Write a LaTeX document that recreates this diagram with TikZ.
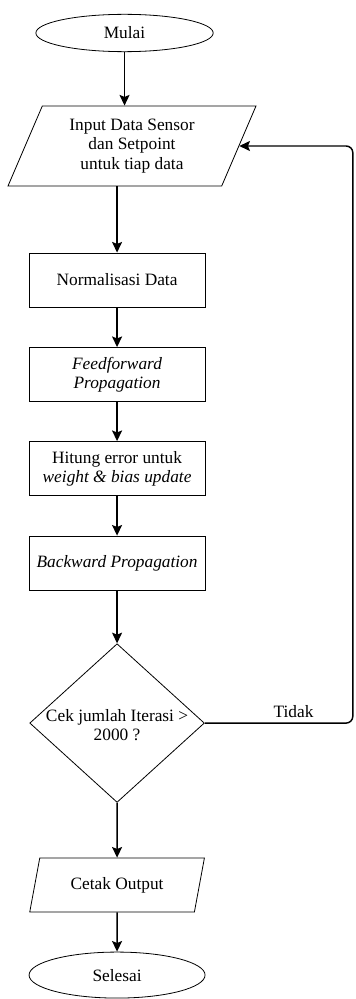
\documentclass[tikz,border=0pt]{standalone}
\usepackage{fontspec}
\setmainfont{Liberation Serif}
\usetikzlibrary{arrows.meta, shapes.geometric}

\begin{document}
\begin{tikzpicture}[
                > = {Stealth[length=8pt, width=7.5pt, inset=1.5pt]}, % arrow head style
                node distance = 70.9pt, % distance between boxes
                semithick, % line style
                font = \rmfamily\fontsize{13}{14.5}\selectfont
        ]

        \tikzstyle{terminal}=[draw = black, ellipse, minimum width = 133pt, inner sep = 0pt]
        \tikzstyle{io}=[draw = black, trapezium, trapezium left angle = 57.5,
            trapezium right angle = 122.5, trapezium stretches body, align = center, inner sep = 0pt]
        \tikzstyle{process}=[draw = black, rectangle, minimum width = 132pt,
            minimum height = 40.5pt, align = center, inner sep = 0pt]
        \tikzstyle{decision}=[draw = black, diamond, minimum width = 131pt,
            minimum height = 119pt, inner sep = 0pt]
        \tikzstyle{flow}=[->, line width = 1.1pt]

        \useasboundingbox (-93.4pt,24.75pt) rectangle (172.9pt,-724.5pt);

        \node[terminal, minimum height = 28pt] (mulai) {Mulai};
        \node[io, minimum width = 186pt, minimum height = 60pt] (input) [below of=mulai, node distance=84.75pt, xshift=5.6pt] {Input Data Sensor\\dan Setpoint\\untuk tiap data};
        \node[process] (norm) [below of=input, node distance=100.5pt, xshift=-11.2pt] {Normalisasi Data};
        \node[process] (ff) [below of=norm] {\textit{Feedforward}\\\textit{Propagation}};
        \node[process] (hitung) [below of=ff, node distance=70.5pt] {Hitung error untuk\\\textit{weight \& bias update}};
        \node[process] (back) [below of=hitung] {\textit{Backward Propagation}};
        \node[decision] (cek) [below of=back, node distance=120pt] {};
        \node[align = center, yshift=-1.5pt] (cektext) at (cek) {Cek jumlah Iterasi >\\2000 ?};
        \node[io, minimum width = 131pt, minimum height = 40.5pt] (cetak) [below of=cek, node distance=121.5pt] {Cetak Output};
        \node[terminal, minimum width = 132pt, minimum height = 34.5pt] (selesai) [below of=cetak, node distance=67.5pt] {Selesai};

        \draw[flow] (mulai) -- (mulai |- input.north);
        \draw[flow] (norm |- input.south) -- (norm);
        \draw[flow] (norm) -- (ff);
        \draw[flow] (ff) -- (hitung);
        \draw[flow] (hitung) -- (back);
        \draw[flow] (back) -- (cek);
        \draw[flow] (cek) -- (cetak);
        \draw[flow] (cetak) -- (selesai);
        \draw[flow, rounded corners = 5pt] (cek.east) -- node[above, pos=0.6] (tidak) {Tidak} ++(111pt,0) |- (input);

        \end{tikzpicture}
\end{document}
